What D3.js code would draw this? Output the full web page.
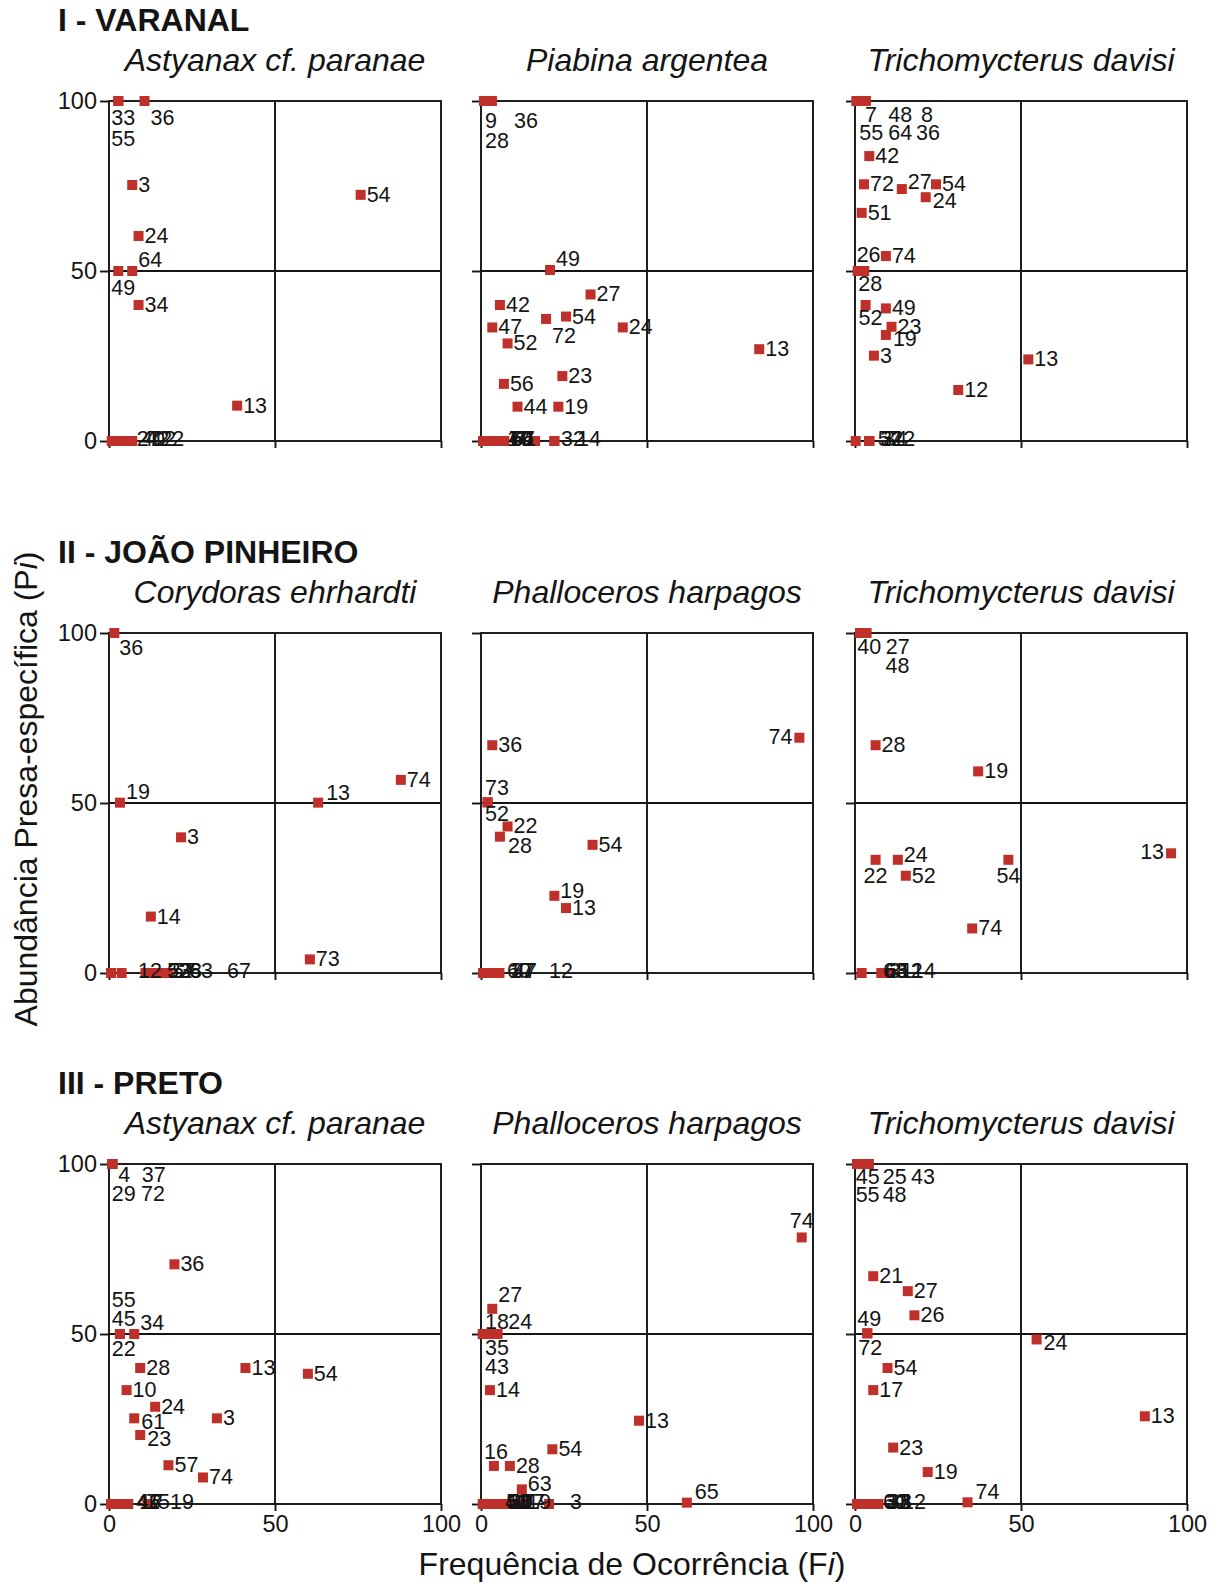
<!DOCTYPE html>
<html>
<head>
<meta charset="utf-8">
<script src="https://cdn.jsdelivr.net/npm/d3@7"></script>
<style>
  html, body { margin: 0; padding: 0; background: #ffffff; }
  svg { display: block; font-family: "Liberation Sans", Arial, Helvetica, sans-serif; }
</style>
</head>
<body>
<svg id="chart" width="1217" height="1582"></svg>
<script>
// ---- axis ticks and titles ----
const fiTicks = [0, 50, 100];
const piTicks = [0, 50, 100];
const siteNames = ["I - VARANAL", "II - JOÃO PINHEIRO", "III - PRETO"];
const speciesVaranal = ["Astyanax cf. paranae", "Piabina argentea", "Trichomycterus davisi"];
const speciesJoaoPinheiro = ["Corydoras ehrhardti", "Phalloceros harpagos", "Trichomycterus davisi"];
const speciesPreto = ["Astyanax cf. paranae", "Phalloceros harpagos", "Trichomycterus davisi"];

// ---- prey items: [item, Fi (%), Pi (%)] ----
const varanalAstyanax = [
  ["33", 2.8, 100], ["55", 2.8, 100], ["36", 10.7, 100], ["3", 7.0, 75.3], ["24", 8.9, 60.3],
  ["64", 7.0, 50], ["49", 2.8, 50], ["34", 8.9, 40], ["13", 38.6, 10.4], ["54", 75.8, 72.4],
  ["27", 0.8, 0], ["40", 2.4, 0], ["42", 4.0, 0], ["12", 5.6, 0], ["22", 7.0, 0]
];
const varanalPiabina = [
  ["9", 0.9, 100], ["28", 0.9, 100], ["36", 3.3, 100], ["49", 20.8, 50.3], ["27", 33.0, 43.1],
  ["42", 5.7, 40.0], ["54", 25.6, 36.6], ["72", 19.6, 35.9], ["24", 42.7, 33.4], ["47", 3.4, 33.4],
  ["52", 8.0, 28.7], ["13", 83.8, 27.0], ["23", 24.5, 19.1], ["56", 6.9, 16.8], ["44", 11.0, 10.1],
  ["19", 23.3, 10.1], ["17", 0.6, 0], ["40", 2.2, 0], ["70", 3.8, 0], ["57", 5.4, 0], ["66", 7.0, 0],
  ["61", 16.3, 0], ["32", 22.1, 0], ["14", 22.1, 0]
];
const varanalTrichomycterus = [
  ["7", 0.4, 100], ["48", 1.0, 100], ["8", 1.6, 100], ["55", 2.2, 100], ["64", 2.8, 100], ["36", 3.3, 100],
  ["42", 4.3, 83.8], ["72", 2.7, 75.5], ["27", 14.1, 74.1], ["54", 24.4, 75.5], ["24", 21.3, 71.7],
  ["51", 2.0, 67.1], ["74", 9.3, 54.4], ["26", 0.8, 50], ["28", 2.8, 50], ["52", 3.2, 40.0],
  ["49", 9.3, 39.0], ["23", 11.0, 33.6], ["19", 9.3, 31.2], ["3", 5.7, 25.1], ["12", 31.1, 15.0],
  ["13", 52.2, 24.0], ["57", 0.2, 0], ["31", 4.3, 0], ["34", 4.3, 0], ["22", 4.3, 0]
];
const joaoCorydoras = [
  ["36", 1.6, 100], ["19", 3.3, 50.1], ["3", 21.7, 39.9], ["14", 12.6, 16.6], ["13", 63.0, 50.1],
  ["74", 87.9, 56.8], ["73", 60.5, 4.0], ["12", 0.6, 0], ["22", 3.8, 0], ["53", 11.0, 0],
  ["57", 13.5, 0], ["28", 16.0, 0], ["63", 17.8, 0], ["67", 17.8, 0]
];
const joaoPhalloceros = [
  ["74", 95.9, 69.2], ["36", 3.4, 67.0], ["73", 2.0, 50.2], ["52", 2.0, 50.2], ["22", 8.0, 43.1],
  ["28", 5.7, 40.1], ["54", 33.6, 37.7], ["19", 22.1, 22.7], ["13", 25.6, 19.1],
  ["60", 0.6, 0], ["17", 2.4, 0], ["37", 4.2, 0], ["47", 5.5, 0], ["12", 5.5, 0]
];
const joaoTrichomycterus = [
  ["40", 1.5, 100], ["27", 2.5, 100], ["48", 3.5, 100], ["28", 6.2, 67.0], ["19", 37.1, 59.3],
  ["13", 95.2, 35.2], ["22", 6.2, 33.3], ["24", 12.9, 33.3], ["52", 15.3, 28.6], ["54", 46.2, 33.3],
  ["74", 35.3, 13.1], ["63", 2.0, 0], ["65", 8.0, 0], ["31", 8.0, 0], ["12", 10.5, 0], ["14", 10.5, 0]
];
const pretoAstyanax = [
  ["4", 1.0, 100], ["37", 1.0, 100], ["29", 1.0, 100], ["72", 1.0, 100], ["36", 19.7, 70.5],
  ["55", 3.3, 50], ["45", 3.3, 50], ["22", 3.3, 50], ["34", 7.6, 50], ["28", 9.4, 40],
  ["13", 41.1, 40], ["54", 59.9, 38.3], ["10", 5.3, 33.5], ["24", 13.9, 28.6], ["3", 32.5, 25.2],
  ["61", 7.6, 25.2], ["23", 9.4, 20.3], ["57", 17.9, 11.4], ["74", 28.3, 7.8],
  ["41", 0.6, 0], ["46", 2.6, 0], ["17", 4.6, 0], ["75", 5.8, 0], ["19", 11.5, 0]
];
const pretoPhalloceros = [
  ["74", 96.6, 78.4], ["27", 3.4, 57.4], ["18", 0.5, 50], ["24", 2.0, 50], ["35", 3.5, 50],
  ["43", 5.0, 50], ["14", 2.7, 33.5], ["13", 47.6, 24.5], ["54", 21.5, 16.1], ["16", 3.9, 11.2],
  ["28", 8.7, 11.2], ["63", 12.3, 4.3], ["65", 62.0, 0.4],
  ["40", 0.5, 0], ["51", 2.3, 0], ["33", 4.1, 0], ["60", 5.9, 0], ["20", 7.3, 0], ["37", 9.0, 0],
  ["17", 11.0, 0], ["19", 13.0, 0], ["3", 20.5, 0]
];
const pretoTrichomycterus = [
  ["45", 0.6, 100], ["25", 1.5, 100], ["43", 2.4, 100], ["55", 3.3, 100], ["48", 4.2, 100],
  ["21", 5.5, 67.0], ["27", 15.9, 62.6], ["26", 17.9, 55.5], ["49", 3.7, 50.2], ["72", 3.7, 50.2],
  ["24", 54.7, 48.4], ["54", 9.8, 40.0], ["17", 5.5, 33.5], ["13", 87.3, 25.8], ["23", 11.5, 16.6],
  ["19", 21.9, 9.4], ["74", 33.9, 0.5],
  ["60", 0.6, 0], ["31", 2.4, 0], ["33", 4.4, 0], ["38", 7.0, 0], ["12", 7.0, 0]
];

// ---- label placement (same order as the items): preset name or [dx, dy] in px ----
const varanalAstyanaxLabels = ["b", "b2", "br", "r", "r", "ar", "b", "r", "r", "r",
  [25, 5], [24, 5], [23, 5], [24.5, 5], [28, 5]];
const varanalPiabinaLabels = [[1, 27], [1, 47], [22, 27], "ar", "r", "r", "r", "br", "r", "r",
  "r", "r", "r", "r", "r", "r", [24, 5], [19.7, 5], [15.4, 5], [12.1, 5], [5.8, 5], [-23, 5], [6.6, 5], [22.6, 5]];
const varanalTrichomycterusLabels = [[8.7, 21], [30, 21], [60.7, 21], [-3, 38.5], [24, 38.5], [50, 38.5],
  "r", "r", [6, 0], "r", "lr", "r", "r", [-1, -9], [-6, 20], [-7, 20], "r", "r", "lr", "r", "r", "r",
  [22, 5], [11, 5], [14, 5], [22, 5]];
const joaoCorydorasLabels = [[5, 22], "ar", "r", "r", [8, -3], "r", "r",
  [27, 5], [47, 5], [21.6, 5], [18.3, 5], [16, 5], [21, 5], [59, 5]];
const joaoPhallocerosLabels = ["l", "r", [-2.6, -7.5], [-2.6, 19], "r", [8, 16], "r", "ur", "r",
  [24, 5], [20, 5], [16, 5], [13.7, 5], [49.7, 5]];
const joaoTrichomycterusLabels = [[-2.7, 21], [22.4, 21], [19, 40], "r", "r", "l", "bc", "ur", "r", "bc", "r",
  [21.4, 5], [3.4, 5], [7.4, 5], [9, 5], [22, 5]];
const pretoAstyanaxLabels = [[6, 18.3], [29.4, 18.3], [-0.6, 37], [28.7, 37], "r",
  [-8.2, -26.8], [-8.2, -8.5], [-8.2, 21.5], "ar", "r", "r", "r", "r", "r", "r", "lr", "lr", "r", "r",
  [25, 5], [19.4, 5], [14.8, 5], [17.8, 5], [22.9, 5]];
const pretoPhallocerosLabels = ["ac", [6, -7], [2.3, -5.2], [20.7, -5.2], [-7.6, 20.8], [-12.6, 39.8],
  "r", "r", "r", [-10, -6.7], "r", "ur", [8, -4],
  [22.3, 5], [17.4, 5], [12.4, 5], [7.4, 5], [3.8, 5], [-0.9, 5], [3.5, 5], [2.8, 5], [21, 5]];
const pretoTrichomycterusLabels = [[-1.3, 20], [22.7, 20], [48, 20], [-10.3, 37.7], [13.7, 37.7],
  "r", "r", "r", [-10, -7.8], [-9, 22], "lr", "r", "r", "r", "r", "r", [8, -3],
  [26, 5], [21, 5], [16.4, 5], [9.8, 5], [23.8, 5]];

// ---- layout ----
const panelLeft = [109, 481, 855];
const panelTop = [101, 633, 1164];
const panelW = 332;
const panelH = 340;
const markerSize = 10;
const markerColor = "#c0302b";
const inkColor = "#141414";
const lineWidth = 1.9;

const presets = {
  r:  [6, 7, "start"],
  ur: [6, 2, "start"],
  ar: [6, -4, "start"],
  lr: [7, 11, "start"],
  br: [6, 24, "start"],
  b:  [-7, 24, "start"],
  b2: [-7, 45, "start"],
  l:  [-7, 6, "end"],
  bc: [0, 23, "middle"],
  ac: [0, -9, "middle"]
};

const rows = [
  { site: siteNames[0], species: speciesVaranal,
    data: [varanalAstyanax, varanalPiabina, varanalTrichomycterus],
    labels: [varanalAstyanaxLabels, varanalPiabinaLabels, varanalTrichomycterusLabels] },
  { site: siteNames[1], species: speciesJoaoPinheiro,
    data: [joaoCorydoras, joaoPhalloceros, joaoTrichomycterus],
    labels: [joaoCorydorasLabels, joaoPhallocerosLabels, joaoTrichomycterusLabels] },
  { site: siteNames[2], species: speciesPreto,
    data: [pretoAstyanax, pretoPhalloceros, pretoTrichomycterus],
    labels: [pretoAstyanaxLabels, pretoPhallocerosLabels, pretoTrichomycterusLabels] }
];

const svg = d3.select("#chart");
svg.append("rect").attr("width", 1217).attr("height", 1582).attr("fill", "#ffffff");

rows.forEach((row, ri) => {
  const top = panelTop[ri];

  // site heading
  svg.append("text")
    .attr("x", 58).attr("y", top - 70)
    .attr("font-size", 32).attr("font-weight", "bold")
    .attr("fill", inkColor)
    .text(row.site);

  row.data.forEach((items, ci) => {
    const left = panelLeft[ci];
    const x = d3.scaleLinear().domain([0, 100]).range([left, left + panelW]);
    const y = d3.scaleLinear().domain([0, 100]).range([top + panelH, top]);
    const g = svg.append("g");

    // species name
    g.append("text")
      .attr("x", left + panelW / 2).attr("y", top - 30)
      .attr("text-anchor", "middle")
      .attr("font-size", 32).attr("font-style", "italic")
      .attr("fill", inkColor)
      .text(row.species[ci]);

    // left axis ticks (labels only in the first column)
    const yAxis = d3.axisLeft(y).tickValues(piTicks).tickSize(9).tickPadding(3)
      .tickFormat(ci === 0 ? d3.format("d") : () => "");
    const ya = g.append("g").attr("transform", `translate(${left},0)`).call(yAxis);

    // bottom axis ticks (labels only in the last row)
    const xAxis = d3.axisBottom(x).tickValues(fiTicks).tickSize(7).tickPadding(4)
      .tickFormat(ri === 2 ? d3.format("d") : () => "");
    const xa = g.append("g").attr("transform", `translate(0,${top + panelH})`).call(xAxis);

    [ya, xa].forEach(a => {
      a.select(".domain").remove();
      a.selectAll("line").attr("stroke", inkColor).attr("stroke-width", lineWidth);
      a.selectAll("text").attr("font-size", 23.5).attr("fill", inkColor)
        .attr("font-family", "\"Liberation Sans\", Arial, sans-serif");
    });

    // quadrant frame
    g.append("rect")
      .attr("x", x(0)).attr("y", y(100))
      .attr("width", x(100) - x(0)).attr("height", y(0) - y(100))
      .attr("fill", "none").attr("stroke", inkColor).attr("stroke-width", lineWidth);
    g.append("line")
      .attr("x1", x(50)).attr("x2", x(50)).attr("y1", y(0)).attr("y2", y(100))
      .attr("stroke", inkColor).attr("stroke-width", lineWidth);
    g.append("line")
      .attr("x1", x(0)).attr("x2", x(100)).attr("y1", y(50)).attr("y2", y(50))
      .attr("stroke", inkColor).attr("stroke-width", lineWidth);

    // prey markers
    g.selectAll("rect.prey").data(items).join("rect")
      .attr("class", "prey")
      .attr("x", d => x(d[1]) - markerSize / 2)
      .attr("y", d => y(d[2]) - markerSize / 2)
      .attr("width", markerSize).attr("height", markerSize)
      .attr("fill", markerColor);

    // prey labels
    const place = row.labels[ci];
    g.selectAll("text.prey").data(items).join("text")
      .attr("class", "prey")
      .each(function (d, i) {
        const p = place[i];
        const off = typeof p === "string" ? presets[p] : [p[0], p[1], "start"];
        d3.select(this)
          .attr("x", x(d[1]) + off[0])
          .attr("y", y(d[2]) + off[1])
          .attr("text-anchor", off[2]);
      })
      .attr("font-size", 21.5)
      .attr("fill", inkColor)
      .text(d => d[0]);
  });
});

// axis titles
const yt = svg.append("text")
  .attr("transform", "translate(37,789) rotate(-90)")
  .attr("text-anchor", "middle")
  .attr("font-size", 32)
  .attr("fill", inkColor);
yt.append("tspan").text("Abundância Presa-específica (P");
yt.append("tspan").attr("font-style", "italic").text("i");
yt.append("tspan").text(")");

const xt = svg.append("text")
  .attr("x", 632).attr("y", 1575)
  .attr("text-anchor", "middle")
  .attr("font-size", 32)
  .attr("fill", inkColor);
xt.append("tspan").text("Frequência de Ocorrência (F");
xt.append("tspan").attr("font-style", "italic").text("i");
xt.append("tspan").text(")");
</script>
</body>
</html>
